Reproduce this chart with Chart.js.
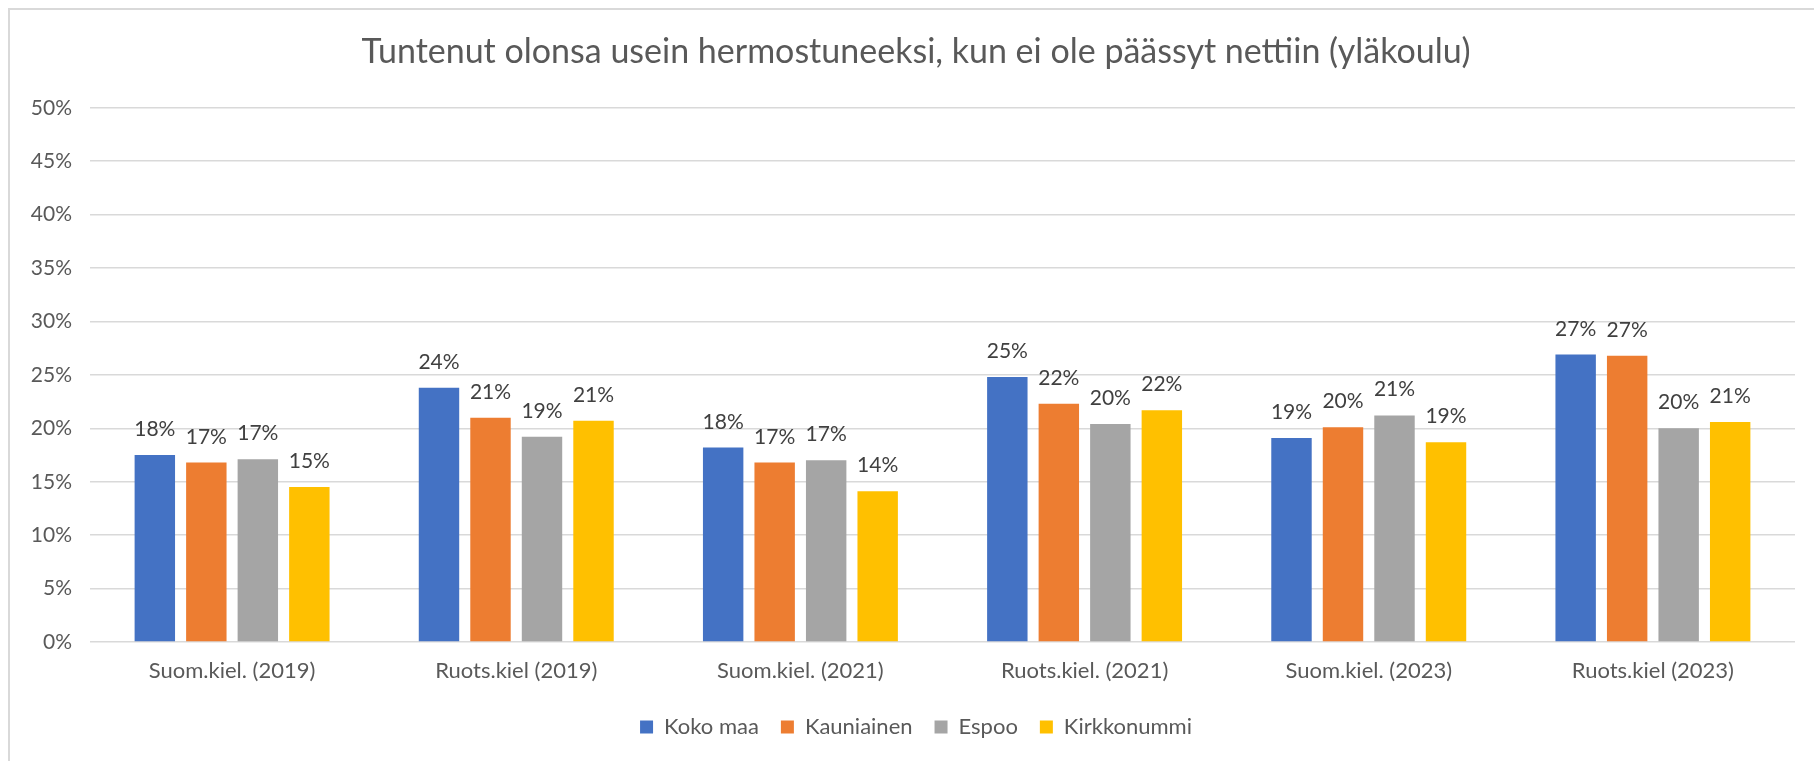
<!DOCTYPE html>
<html>
<head>
<meta charset="utf-8">
<script src="https://cdn.jsdelivr.net/npm/chart.js@4.4.0/dist/chart.umd.min.js"></script>
<style>
  html, body { margin: 0; padding: 0; background: #fff; }
  canvas { display: block; }
</style>
</head>
<body>
<canvas id="nettiChart" width="1814" height="761"></canvas>
<script>
// Tuntenut olonsa hermostuneeksi – yläkoulu, osuudet prosentteina
const categories = ['Suom.kiel. (2019)', 'Ruots.kiel (2019)', 'Suom.kiel. (2021)', 'Ruots.kiel. (2021)', 'Suom.kiel. (2023)', 'Ruots.kiel (2023)'];
const kokoMaa = [17.5, 23.8, 18.2, 24.8, 19.1, 26.9];
const kauniainen = [16.8, 21.0, 16.8, 22.3, 20.1, 26.8];
const espoo = [17.1, 19.2, 17.0, 20.4, 21.2, 20.0];
const kirkkonummi = [14.5, 20.7, 14.1, 21.7, 18.7, 20.6];
const yTicks = [0, 5, 10, 15, 20, 25, 30, 35, 40, 45, 50];

const FONT = 'Lato, "Open Sans", sans-serif';
const TEXT = '#595959';

// value labels above each bar
const barLabels = {
  id: 'barLabels',
  afterDatasetsDraw(chart) {
    const { ctx } = chart;
    ctx.save();
    ctx.font = '21px ' + FONT;
    ctx.fillStyle = '#404040';
    ctx.textAlign = 'center';
    ctx.textBaseline = 'alphabetic';
    chart.data.datasets.forEach((ds, i) => {
      chart.getDatasetMeta(i).data.forEach((bar, j) => {
        ctx.fillText(Math.round(ds.data[j]) + '%', bar.x, bar.y - 19);
      });
    });
    ctx.restore();
  },
};

// thin frame along the left and top edge
const frame = {
  id: 'frame',
  beforeDraw(chart) {
    const { ctx } = chart;
    ctx.save();
    ctx.strokeStyle = '#d9d9d9';
    ctx.lineWidth = 2;
    ctx.beginPath();
    ctx.moveTo(9, chart.height);
    ctx.lineTo(9, 9);
    ctx.lineTo(chart.width, 9);
    ctx.stroke();
    ctx.restore();
  },
};

const bar = (label, data, color) => ({
  label,
  data,
  backgroundColor: color,
  borderWidth: 0,
  categoryPercentage: 0.725,
  barPercentage: 0.785,
});

new Chart(document.getElementById('nettiChart'), {
  type: 'bar',
  data: {
    labels: categories,
    datasets: [
      bar('Koko maa', kokoMaa, '#4472C4'),
      bar('Kauniainen', kauniainen, '#ED7D31'),
      bar('Espoo', espoo, '#A5A5A5'),
      bar('Kirkkonummi', kirkkonummi, '#FFC000'),
    ],
  },
  options: {
    responsive: false,
    animation: false,
    devicePixelRatio: 1,
    layout: { padding: { left: 20, right: 2, top: 0, bottom: 17 } },
    plugins: {
      title: {
        display: true,
        text: 'Tuntenut olonsa usein hermostuneeksi, kun ei ole päässyt nettiin (yläkoulu)',
        color: TEXT,
        font: { family: FONT, size: 34, weight: '400', lineHeight: 1.2 },
        padding: { top: 32, bottom: 35 },
      },
      legend: {
        position: 'bottom',
        maxHeight: 50,
        labels: {
          color: TEXT,
          font: { family: FONT, size: 22 },
          boxWidth: 13,
          boxHeight: 13,
          padding: 22,
        },
      },
      tooltip: { enabled: false },
    },
    scales: {
      x: {
        grid: { display: false, drawTicks: false },
        border: { display: false },
        ticks: { color: TEXT, font: { family: FONT, size: 22 }, padding: 16, maxRotation: 0 },
        afterFit(scale) { scale.height = 52; },
      },
      y: {
        min: yTicks[0],
        max: yTicks[yTicks.length - 1],
        grid: { color: '#d9d9d9', lineWidth: 1.5, drawTicks: false },
        border: { display: false },
        afterBuildTicks(scale) { scale.ticks = yTicks.map((v) => ({ value: v })); },
        ticks: {
          color: TEXT,
          font: { family: FONT, size: 21 },
          padding: 18,
          callback: (v) => v + '%',
        },
        afterFit(scale) { scale.width = 70; },
      },
      // empty right-hand axis that only reserves space
      y2: {
        position: 'right',
        grid: { display: false, drawTicks: false },
        border: { display: false },
        ticks: { display: false },
        afterFit(scale) { scale.width = 17; },
      },
    },
  },
  plugins: [frame, barLabels],
});
</script>
</body>
</html>
